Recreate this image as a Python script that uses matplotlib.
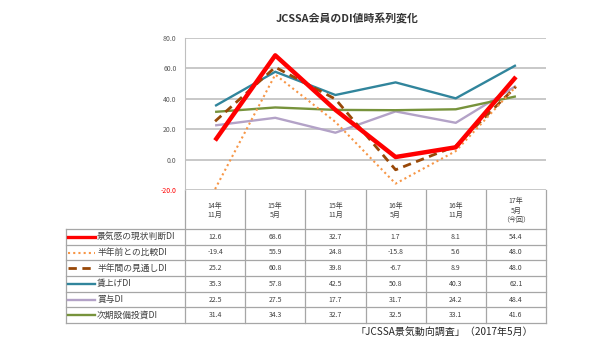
import matplotlib
matplotlib.use("Agg")
import matplotlib.pyplot as plt
from matplotlib.lines import Line2D

plt.rcParams['font.family'] = ['Noto Sans CJK JP', 'DejaVu Sans']

# データ
periods = ["14年\n11月", "15年\n5月", "15年\n11月", "16年\n5月", "16年\n11月", "17年\n5月\n（今回）"]
names = ["景気感の現状判断DI", "半年前との比較DI", "半年間の見通しDI", "賃上げDI", "賞与DI", "次期設備投資DI"]
genjo = [12.6, 68.6, 32.7, 1.7, 8.1, 54.4]
hikaku = [-19.4, 55.9, 24.8, -15.8, 5.6, 48.0]
mitoshi = [25.2, 60.8, 39.8, -6.7, 8.9, 48.0]
chinage = [35.3, 57.8, 42.5, 50.8, 40.3, 62.1]
shoyo = [22.5, 27.5, 17.7, 31.7, 24.2, 48.4]
setsubi = [31.4, 34.3, 32.7, 32.5, 33.1, 41.6]
series = [genjo, hikaku, mitoshi, chinage, shoyo, setsubi]
y_ticks = [-20, 0, 20, 40, 60, 80]

# 線のスタイル
styles = [
    dict(color="#FF0000", lw=3.2, ls="-", zorder=6),
    dict(color="#F79646", lw=1.5, ls=(0, (1, 1.5)), zorder=5),
    dict(color="#984807", lw=2.0, ls=(0, (3, 2)), zorder=4),
    dict(color="#31859C", lw=1.7, ls="-", zorder=3),
    dict(color="#B3A2C7", lw=1.7, ls="-", zorder=3),
    dict(color="#77933C", lw=1.7, ls="-", zorder=3),
]

W, H = 600, 343
fig = plt.figure(figsize=(6, 3.43), dpi=100)

# グラフ領域（ピクセル単位）
left, right, top, bottom = 185, 546, 38, 190
ax = fig.add_axes([left / W, 1 - bottom / H, (right - left) / W, (bottom - top) / H])
x = list(range(len(periods)))
for vals, st in zip(series, styles):
    ax.plot(x, vals, solid_capstyle="butt", **st)

ax.set_xlim(-0.5, len(periods) - 0.5)
ax.set_ylim(-20, 80)
ax.set_yticks(y_ticks)
ax.set_yticklabels([f"{v:.1f}" for v in y_ticks], fontsize=5, color="#595959")
ax.get_yticklabels()[0].set_color("#FF0000")
ax.tick_params(axis="y", length=0, pad=6)
ax.set_xticks([])
ax.grid(axis="y", color="#BFBFBF", lw=1.2, zorder=0)
for s in ["top", "right", "bottom"]:
    ax.spines[s].set_visible(False)
ax.spines["left"].set_color("#BFBFBF")

fig.text(347 / W, 1 - 18 / H, "JCSSA会員のDI値時系列変化", ha="center", va="center",
         fontsize=7.8, fontweight="bold", color="#333333")

# データ表
tab = fig.add_axes([0, 0, 1, 1], zorder=-1)
tab.set_xlim(0, W)
tab.set_ylim(H, 0)
tab.axis("off")

tleft = 66
col_w = (right - left) / len(periods)
head_bot = 229
row_h = (323 - head_bot) / len(names)
tbot = head_bot + row_h * len(names)
gc = "#A6A6A6"

for k in range(len(periods) + 1):
    tab.plot([left + k * col_w] * 2, [bottom, tbot], color=gc, lw=0.9)
tab.plot([tleft, tleft], [head_bot, tbot], color=gc, lw=0.9)
for r in range(len(names) + 1):
    yy = head_bot + r * row_h
    tab.plot([tleft, right], [yy, yy], color=gc, lw=0.9)

for k, p in enumerate(periods):
    tab.text(left + (k + 0.5) * col_w, (bottom + head_bot) / 2 + 1, p, ha="center", va="center",
             fontsize=5, color="#404040", linespacing=1.3)

for r, (name, vals, st) in enumerate(zip(names, series, styles)):
    yc = head_bot + (r + 0.5) * row_h
    tab.add_line(Line2D([68, 95], [yc, yc], color=st["color"], lw=min(st["lw"], 2.4), ls=st["ls"]))
    tab.text(97, yc, name, ha="left", va="center", fontsize=6.3, color="#404040")
    for k, v in enumerate(vals):
        tab.text(left + (k + 0.5) * col_w, yc, f"{v:.1f}", ha="center", va="center",
                 fontsize=5, color="#404040")

fig.text(533 / W, 1 - 332 / H, "「JCSSA景気動向調査」（2017年5月）", ha="right", va="center",
         fontsize=7.2, color="#262626")

fig.savefig("out.png", dpi=100)
